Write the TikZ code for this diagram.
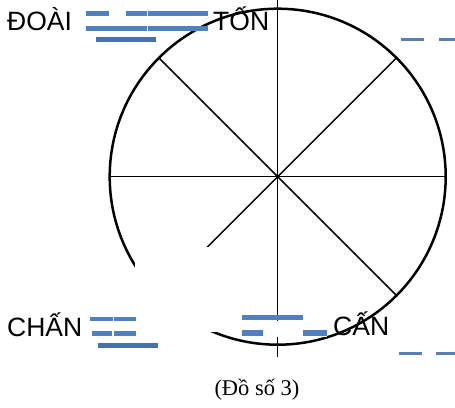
\documentclass[tikz,border=0pt]{standalone}
\usepackage{fontspec}
\setmainfont{Liberation Serif}
\newfontfamily\labelfont{Liberation Sans}
\definecolor{barblue}{HTML}{4F81BD}
\definecolor{bardark}{HTML}{4672AE}
\definecolor{barfade}{HTML}{5A7FB5}
\begin{document}
\begin{tikzpicture}[x=1pt,y=-1pt,
  spoke/.style={line width=1.5pt},
  rim/.style={line width=2.5pt},
  bar/.style={fill=barblue},
  shadebar/.style={fill=bardark},
  fadebar/.style={fill=barfade},
  divider/.style={white,line width=0.6pt},
  lbl/.style={font=\labelfont\fontsize{26.5}{30}\selectfont, anchor=base west, inner sep=0pt},
  caption/.style={font=\fontsize{22.5}{26}\selectfont, anchor=base, inner sep=0pt}]
\useasboundingbox (0,0) rectangle (455,407);
% wheel
\coordinate (O) at (277.7,176.7);
\coordinate (N) at (277.7,0);
\coordinate (S) at (277.7,357);
\coordinate (W) at (109.7,176.7);
\coordinate (E) at (445.7,176.7);
\coordinate (NW) at (158.9,57.9);
\coordinate (SE) at (396.5,295.5);
\coordinate (NE) at (396.5,57.9);
\coordinate (SW) at (158.9,295.5);
\draw[rim] (O) circle[radius=168];
\draw[spoke] (N) -- (S);
\draw[spoke] (W) -- (E);
\draw[spoke] (NW) -- (SE);
\draw[spoke] (NE) -- (SW);
% covering boxes
\fill[white] (135,247) rectangle (276,332);
\fill[white] (242,320.5) rectangle (327,336.5);
% labels
\node[lbl] (doai) at (7,30) {ĐOÀI};
\node[lbl] (ton) at (213,30) {TỐN};
\node[lbl] (chan) at (7,336) {CHẤN};
\node[lbl] (can) at (333,335) {CẤN};
% trigram bars near DOAI / TON
\fill[bar] (86,11) rectangle (109.3,15.7);
\fill[bar] (125.7,11) rectangle (207.7,15.7);
\fill[bar] (86,26.3) rectangle (207.7,31);
\draw[divider] (147.7,11) -- (147.7,31);
\fill[shadebar] (96,37.3) rectangle (156,41.7);
% top right dashes
\fill[fadebar] (401,37.7) rectangle (424.3,40.9);
\fill[fadebar] (439.3,37.7) rectangle (455,40.9);
% CHAN bars
\fill[bar] (90,316.7) rectangle (135.7,321);
\draw[divider] (113.3,316.7) -- (113.3,321);
\fill[bar] (91.7,331) rectangle (112.3,335.7);
\fill[bar] (114.3,331) rectangle (135.7,335.7);
\fill[shadebar] (98.3,343.3) rectangle (158.3,347.7);
% CAN bars
\fill[bar] (242.3,315) rectangle (302.7,320);
\fill[bar] (241.7,330) rectangle (263.3,335.7);
\fill[bar] (302.7,330) rectangle (326.7,335.7);
% bottom right dashes
\fill[fadebar] (399.3,351.7) rectangle (421.7,355);
\fill[fadebar] (435.7,351.7) rectangle (455,355);
% caption
\node[caption] (cap) at (257,395) {(Đồ số 3)};
\end{tikzpicture}
\end{document}
